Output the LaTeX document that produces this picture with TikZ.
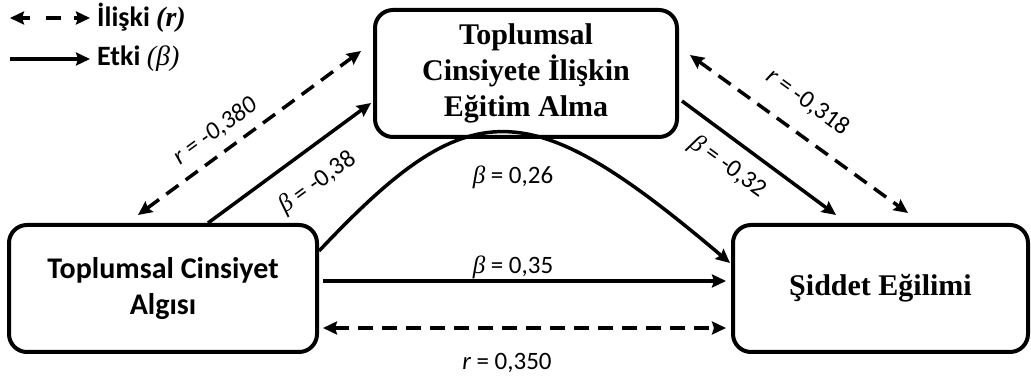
\documentclass[tikz,border=0pt]{standalone}
\usepackage{fontspec}
\setmainfont{Liberation Serif}
\newfontfamily\carl{Carlito}
\usetikzlibrary{arrows.meta,calc}
\begin{document}
\begin{tikzpicture}[x=1pt,y=-1pt,
 box/.style={draw, line width=4pt, rounded corners=18pt, inner sep=0pt, align=center, fill=white},
 conn/.style={line width=3.5pt, -{Stealth[length=14pt,width=13pt,inset=2pt]}},
 rel/.style={line width=3.5pt, dash pattern=on 15pt off 9pt, {Stealth[length=14pt,width=13pt,inset=2pt]}-{Stealth[length=14pt,width=13pt,inset=2pt]}},
 lab/.style={font=\carl\fontsize{25}{29}\selectfont, inner sep=0pt},
 leg/.style={font=\carl\bfseries\fontsize{28}{32}\selectfont, inner sep=0pt, anchor=west}]
\useasboundingbox (0,0) rectangle (1031,379);

% boxes
\node[box, minimum width=308pt, minimum height=127pt, font=\carl\bfseries\fontsize{30}{36}\selectfont] (L) at (163,288.5) {Toplumsal Cinsiyet\\Algısı};
\node[box, minimum width=302pt, minimum height=127pt, font=\bfseries\fontsize{30}{36}\selectfont] (T) at (526,73.5) {Toplumsal\\Cinsiyete İlişkin\\Eğitim Alma};
\node[box, minimum width=295pt, minimum height=127pt, font=\bfseries\fontsize{30}{36}\selectfont] (R) at (880.5,288.5) {Şiddet Eğilimi};

% legend
\coordinate (d1) at (10,18);
\coordinate (d2) at (90,18);
\coordinate (s1) at (10,59);
\coordinate (s2) at (90,59);
\draw[line width=3.5pt, dash pattern=on 9pt off 16pt on 15pt off 13pt on 30pt, {Stealth[length=14pt,width=13pt,inset=2pt]}-{Stealth[length=14pt,width=13pt,inset=2pt]}] (d1) -- (d2);
\draw[conn] (s1) -- (s2);
\node[leg] (lg1) at (97,18) {İlişki {\rmfamily\itshape (r)}};
\node[leg] (lg2) at (97,59) {Etki {\rmfamily\mdseries\itshape (β)}};

% connectors
\draw[conn] ($(L.north west)+(201,0)$) -- ($(T.north west)+(-2,95)$);
\draw[rel] ($(L.north west)+(131,-8)$) -- ($(T.north west)+(-12,43)$);
\draw[conn] ($(T.north east)+(3,93)$) -- ($(R.north west)+(105,-8)$);
\draw[rel] ($(T.north east)+(11,47)$) -- ($(R.north west)+(177,-10)$);
\draw[conn] ($(L.north east)+(0,28)$) .. controls (470,91) and (527,91) .. ($(R.north west)+(-1,40)$);
\draw[conn] ($(L.east)+(4,-7.5)$) -- ($(R.west)+(-5,-7.5)$);
\draw[rel] ($(L.east)+(4,39.5)$) -- ($(R.west)+(-5,39.5)$);

% labels
\node[lab, rotate=36] (l1) at (215,131) {\itshape r = -0,380};
\node[lab, rotate=36] (l2) at (318,183) {{\rmfamily\itshape β} = -0,38};
\node[lab] (l3) at (513,177) {{\rmfamily\itshape β} = 0,26};
\node[lab, rotate=-36] (l4) at (728,167) {{\rmfamily\itshape β} = -0,32};
\node[lab, rotate=-36] (l5) at (808,102) {{\itshape r} = -0,318};
\node[lab] (l6) at (513,267) {{\rmfamily\itshape β} = 0,35};
\node[lab] (l7) at (507,363) {{\itshape r} = 0,350};
\end{tikzpicture}
\end{document}
